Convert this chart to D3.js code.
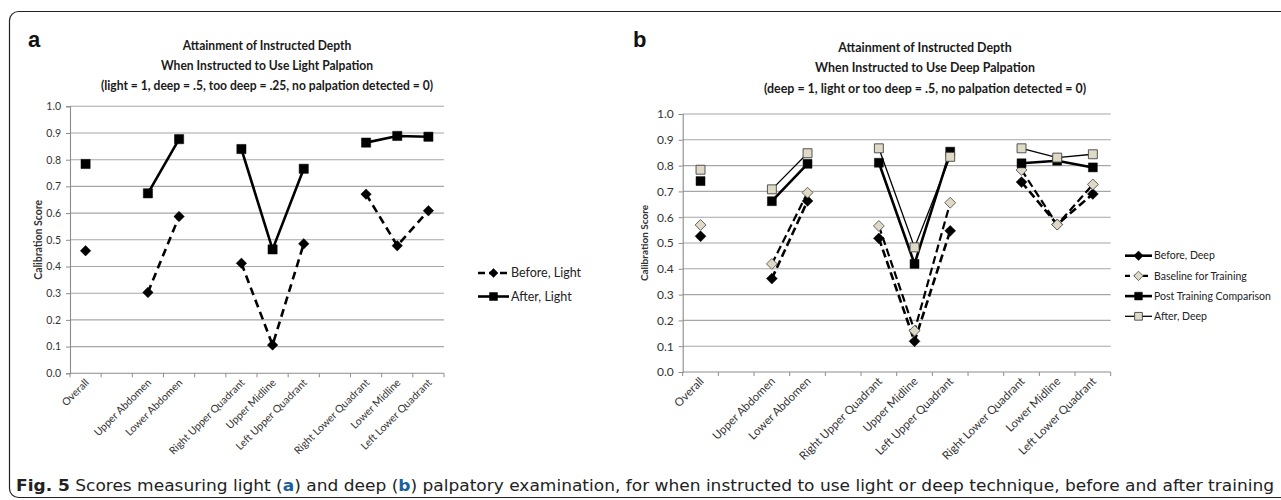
<!DOCTYPE html>
<html><head><meta charset="utf-8">
<script src="https://cdn.jsdelivr.net/npm/d3@7"></script>
<style>
html,body{margin:0;padding:0;background:#fff;}
svg{display:block;}
</style></head>
<body>
<svg id="c" width="1281" height="500"></svg>
<script>
// ---------- DATA ----------
const categories = ["Overall","","Upper Abdomen","Lower Abdomen","","Right Upper Quadrant","Upper Midline","Left Upper Quadrant","","Right Lower Quadrant","Lower Midline","Left Lower Quadrant"];
const yTicks = [0,0.1,0.2,0.3,0.4,0.5,0.6,0.7,0.8,0.9,1.0];

const beforeLight = [0.459,null,0.303,0.587,null,0.412,0.106,0.485,null,0.671,0.478,0.609];
const afterLight  = [0.784,null,0.674,0.877,null,0.840,0.464,0.766,null,0.864,0.889,0.886];

const beforeDeep    = [0.526,null,0.362,0.663,null,0.518,0.119,0.547,null,0.736,0.572,0.690];
const baselineTrain = [0.570,null,0.419,0.695,null,0.566,0.160,0.656,null,0.783,0.571,0.727];
const postTrain     = [0.740,null,0.662,0.807,null,0.811,0.419,0.854,null,0.809,0.819,0.793];
const afterDeep     = [0.784,null,0.708,0.848,null,0.867,0.483,0.834,null,0.867,0.831,0.844];

const titleA = ["Attainment of Instructed Depth","When Instructed to Use Light Palpation","(light = 1, deep = .5, too deep = .25, no palpation detected = 0)"];
const titleB = ["Attainment of Instructed Depth","When Instructed to Use Deep Palpation","(deep = 1, light or too deep = .5, no palpation detected = 0)"];
const yLabel = "Calibration Score";

// ---------- DRAW ----------
const svg = d3.select("#c");
const FONT = "Lato, 'Open Sans', sans-serif";
const BEIGE = "#dedac6";

// frame
svg.append("rect").attr("x",9.5).attr("y",11.5).attr("width",1300).attr("height",486)
  .attr("rx",9).attr("fill","none").attr("stroke","#222").attr("stroke-width",1.2);

function panel(cfg){
  const g = svg.append("g");
  const x = d3.scaleBand().domain(d3.range(categories.length)).range(cfg.xr).paddingInner(0).paddingOuter(0);
  const y = d3.scaleLinear().domain([0,1]).range(cfg.yr);
  const bw = x.bandwidth();
  // gridlines
  g.append("g").selectAll("line").data(yTicks.slice(1)).join("line")
    .attr("x1",cfg.xr[0]).attr("x2",cfg.xr[1])
    .attr("y1",d=>y(d)).attr("y2",d=>y(d))
    .attr("stroke","#a6a6a6").attr("stroke-width",1.1);
  // y axis
  const ya = g.append("g").attr("transform",`translate(${cfg.xr[0]},0)`)
    .call(d3.axisLeft(y).tickValues(yTicks).tickFormat(d3.format(".1f")).tickSize(4).tickPadding(5));
  ya.select(".domain").attr("stroke","#8c8c8c").attr("stroke-width",1.1);
  ya.selectAll(".tick line").attr("stroke","#8c8c8c");
  ya.selectAll("text").attr("font-family",FONT).attr("font-size",cfg.tickFs).attr("fill","#333");
  // x axis baseline
  g.append("line").attr("x1",cfg.xr[0]).attr("x2",cfg.xr[1]).attr("y1",y(0)).attr("y2",y(0))
    .attr("stroke","#8c8c8c").attr("stroke-width",1.1);
  // x ticks at boundaries
  const bounds = d3.range(categories.length+1).map(i=> i<categories.length ? x(i) : cfg.xr[1]);
  g.append("g").selectAll("line").data(bounds).join("line")
    .attr("x1",d=>d).attr("x2",d=>d).attr("y1",y(0)).attr("y2",y(0)+4)
    .attr("stroke","#8c8c8c");
  // x labels
  const xa = g.append("g").attr("transform",`translate(0,${y(0)})`)
    .call(d3.axisBottom(x).tickFormat(i=>categories[i]).tickSize(0));
  xa.select(".domain").remove();
  xa.selectAll("text").attr("font-family",FONT).attr("font-size",cfg.xFs).attr("fill","#333")
    .attr("text-anchor","end").attr("dy",0).attr("y",0)
    .attr("transform",`translate(${cfg.xlOff},10) rotate(-45)`);
  // y label
  g.append("text").attr("transform",`translate(${cfg.ylx},${(cfg.yr[0]+cfg.yr[1])/2}) rotate(-90)`)
    .attr("text-anchor","middle").attr("font-family",FONT).attr("font-weight","bold")
    .attr("font-size",cfg.ylFs).attr("fill","#333").text(yLabel);
  // title
  g.append("g").attr("transform",`translate(${cfg.tx},0) scale(${cfg.tsx},1)`)
    .selectAll("text").data(cfg.title).join("text")
    .attr("x",0).attr("y",(d,i)=>cfg.ty[i]).attr("text-anchor","middle")
    .attr("font-family",FONT).attr("font-weight","bold").attr("font-size",cfg.titleFs)
    .attr("fill","#1a1a1a").text(d=>d);
  // panel letter
  g.append("text").attr("x",cfg.lx).attr("y",47).attr("font-family","'Liberation Sans', Arial, sans-serif")
    .attr("font-weight","bold").attr("font-size",22).attr("fill","#111").text(cfg.letter);

  // series
  const cx = i => x(i)+bw/2;
  cfg.series.forEach(s=>{
    const pts = s.values.map((v,i)=>({i,v}));
    const line = d3.line().defined(d=>d.v!==null).x(d=>cx(d.i)).y(d=>y(d.v));
    g.append("path").datum(pts).attr("d",line).attr("fill","none")
      .attr("stroke","#000").attr("stroke-width",s.lw)
      .attr("stroke-dasharray",s.dash||null);
  });
  cfg.series.forEach(s=>{
    const pts = s.values.map((v,i)=>({i,v})).filter(d=>d.v!==null);
    const sym = d3.symbol().type(s.shape==="sq"?d3.symbolSquare:d3.symbolDiamond2).size(s.size);
    g.append("g").selectAll("path").data(pts).join("path")
      .attr("d",sym).attr("transform",d=>`translate(${cx(d.i)},${y(d.v)})`)
      .attr("fill",s.fill).attr("stroke",s.stroke).attr("stroke-width",s.sw);
  });
  // legend
  const lg = g.append("g");
  cfg.series.forEach((s,k)=>{
    const ly = cfg.leg.y0 + k*cfg.leg.dy;
    lg.append("line").attr("x1",cfg.leg.x1).attr("x2",cfg.leg.x2).attr("y1",ly).attr("y2",ly)
      .attr("stroke","#000").attr("stroke-width",s.lw).attr("stroke-dasharray",s.legDash||null);
    const sym = d3.symbol().type(s.shape==="sq"?d3.symbolSquare:d3.symbolDiamond2).size(s.size*0.75);
    lg.append("path").attr("d",sym).attr("transform",`translate(${(cfg.leg.x1+cfg.leg.x2)/2},${ly})`)
      .attr("fill",s.fill).attr("stroke",s.stroke).attr("stroke-width",s.sw);
    lg.append("text").attr("x",cfg.leg.x2+2).attr("y",ly).attr("dy","0.35em")
      .attr("font-family",FONT).attr("font-size",cfg.leg.fs).attr("fill","#222").text(s.name);
  });
}

panel({
  letter:"a", lx:28,
  xr:[70,444], yr:[373.3,106.3],
  tickFs:10.5, xFs:10.5, xlOff:4, ylx:42, ylFs:10.5,
  title:titleA, tx:267, tsx:0.93, ty:[50,70,90], titleFs:13,
  series:[
    {name:"Before, Light", values:beforeLight, lw:2.6, dash:"8,5", legDash:"7,4", shape:"di", size:70, fill:"#000", stroke:"#000", sw:0.5},
    {name:"After, Light", values:afterLight, lw:2.6, shape:"sq", size:85, fill:"#000", stroke:"#000", sw:0.5}
  ],
  leg:{x1:478, x2:509, y0:273, dy:23.5, fs:12.5}
});

panel({
  letter:"b", lx:633,
  xr:[682.7,1110.7], yr:[372,114],
  tickFs:12, xFs:11.5, xlOff:4, ylx:648, ylFs:10,
  title:titleB, tx:925, tsx:0.92, ty:[52,72,93], titleFs:13.5,
  series:[
    {name:"Before, Deep", values:beforeDeep, lw:2.6, dash:"8,4", legDash:null, shape:"di", size:75, fill:"#000", stroke:"#000", sw:0.5},
    {name:"Baseline for Training", values:baselineTrain, lw:2.2, dash:"8,4", legDash:"5,4", shape:"di", size:75, fill:BEIGE, stroke:"#555", sw:0.9},
    {name:"Post Training Comparison", values:postTrain, lw:2.6, shape:"sq", size:80, fill:"#000", stroke:"#000", sw:0.5},
    {name:"After, Deep", values:afterDeep, lw:1.3, shape:"sq", size:80, fill:BEIGE, stroke:"#444", sw:0.9}
  ],
  leg:{x1:1125, x2:1152, y0:255.7, dy:20.2, fs:10.5}
});

// caption
const cap = svg.append("text").attr("x",16).attr("y",491)
  .attr("font-family","'DejaVu Sans Condensed','Open Sans',sans-serif").attr("font-size",15.5).attr("fill","#222");
cap.append("tspan").attr("font-weight","bold").text("Fig. 5");
cap.append("tspan").text("  Scores measuring light (");
cap.append("tspan").attr("font-weight","bold").attr("fill","#1a5fa0").text("a");
cap.append("tspan").text(") and deep (");
cap.append("tspan").attr("font-weight","bold").attr("fill","#1a5fa0").text("b");
cap.append("tspan").text(") palpatory examination, for when instructed to use light or deep technique, before and after training");
cap.attr("textLength",1258).attr("lengthAdjust","spacingAndGlyphs");
</script>
</body></html>
